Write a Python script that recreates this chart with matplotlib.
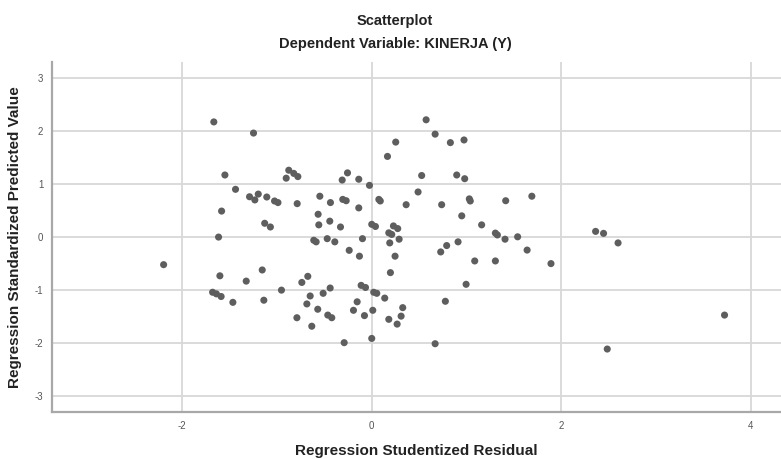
import numpy as np
import matplotlib
matplotlib.use("Agg")
import matplotlib.pyplot as plt

plt.rcParams['font.family'] = ['Liberation Sans', 'DejaVu Sans']
plt.rcParams['axes.unicode_minus'] = False

# studentized residual (x), standardized predicted value (y)
resid = [-1.667, -1.248, -1.55, -1.438, -1.29, -1.234, -1.198, -1.108, -1.585, -1.13,
         -1.07, -1.617, -2.197, -1.603, -1.68, -1.64, -1.59, -1.466, -1.325, -1.156,
         -1.139, 0.574, 0.669, 0.830, 0.974, 0.253, 0.166, 0.527, 0.897, 0.981,
         0.489, 1.03, 1.04, 1.414, 1.69, 0.363, 0.738, 0.95, 1.16, 1.305,
         1.326, 1.407, 1.54, 1.64, 0.728, 0.791, 0.911, 1.087, 1.305, -0.903,
         -0.876, -0.823, -0.78, -1.026, -0.99, -0.787, -0.548, -0.436, -0.566, -0.559,
         -0.443, -0.33, -0.612, -0.587, -0.47, -0.39, -0.312, -0.256, -0.137, -0.024,
         -0.306, -0.27, -0.137, 0.075, 0.09, 0.0, 0.039, -0.098, -0.238, -0.13,
         0.18, 0.211, 0.229, 0.274, 0.289, 0.19, 0.246, 0.197, -0.738, -0.675,
         -0.953, -0.65, -0.685, -0.79, -0.57, -0.633, -0.513, -0.439, -0.464, -0.422,
         -0.291, -0.112, -0.066, 0.021, 0.053, 0.137, -0.154, -0.193, -0.077, 0.011,
         0.0, 0.18, 0.268, 0.31, 0.327, 0.669, 0.777, 0.996, 1.892, 2.363,
         2.447, 2.6, 3.724, 2.486]
pred = [2.17, 1.96, 1.17, 0.90, 0.76, 0.70, 0.81, 0.755, 0.49, 0.26,
        0.19, 0.0, -0.52, -0.73, -1.04, -1.07, -1.12, -1.23, -0.83, -0.62,
        -1.19, 2.21, 1.94, 1.78, 1.83, 1.79, 1.52, 1.16, 1.17, 1.10,
        0.85, 0.72, 0.68, 0.685, 0.77, 0.61, 0.61, 0.40, 0.23, 0.075,
        0.04, -0.04, 0.005, -0.245, -0.28, -0.16, -0.09, -0.45, -0.45, 1.11,
        1.26, 1.20, 1.14, 0.68, 0.65, 0.63, 0.77, 0.65, 0.43, 0.23,
        0.30, 0.19, -0.06, -0.09, -0.03, -0.09, 1.075, 1.21, 1.09, 0.975,
        0.71, 0.685, 0.55, 0.71, 0.68, 0.24, 0.20, -0.03, -0.25, -0.36,
        0.08, 0.05, 0.21, 0.16, -0.04, -0.11, -0.36, -0.67, -0.855, -0.74,
        -1.0, -1.11, -1.26, -1.52, -1.36, -1.68, -1.06, -0.96, -1.47, -1.52,
        -1.99, -0.91, -0.95, -1.04, -1.06, -1.15, -1.22, -1.38, -1.48, -1.38,
        -1.91, -1.55, -1.64, -1.49, -1.33, -2.01, -1.21, -0.89, -0.50, 0.107,
        0.07, -0.11, -1.47, -2.11]

x_ticks = [-2, 0, 2, 4]
y_ticks = [-3, -2, -1, 0, 1, 2, 3]

fig = plt.figure(figsize=(7.81, 4.59), dpi=100)
ax = fig.add_axes([0.066, 0.102, 0.934, 0.763])

ax.scatter(resid, pred, s=26, color='#5e5e5e', edgecolors='none', zorder=3)

ax.set_xlim(-3.38, 4.32)
ax.set_ylim(-3.3, 3.3)
ax.set_xticks(x_ticks)
ax.set_yticks(y_ticks)
ax.tick_params(length=0, labelsize=7, labelcolor='#555555', pad=6)
ax.grid(True, color='#d8d8d8', linewidth=1.3)
ax.set_axisbelow(True)

for s in ['top', 'right']:
    ax.spines[s].set_visible(False)
for s in ['left', 'bottom']:
    ax.spines[s].set_color('#a8a8a8')
    ax.spines[s].set_linewidth(1.6)

fig.text(0.506, 0.955, 'Scatterplot', ha='center', va='center', fontsize=10.5, fontweight='bold', color='#222222')
fig.text(0.506, 0.905, 'Dependent Variable: KINERJA (Y)', ha='center', va='center', fontsize=10.5, fontweight='bold', color='#222222')

ax.set_xlabel('Regression Studentized Residual', fontsize=11, fontweight='bold', labelpad=10, color='#222222')
ax.set_ylabel('Regression Standardized Predicted Value', fontsize=11, fontweight='bold', labelpad=9, color='#222222')

fig.savefig('out.png', dpi=100)
